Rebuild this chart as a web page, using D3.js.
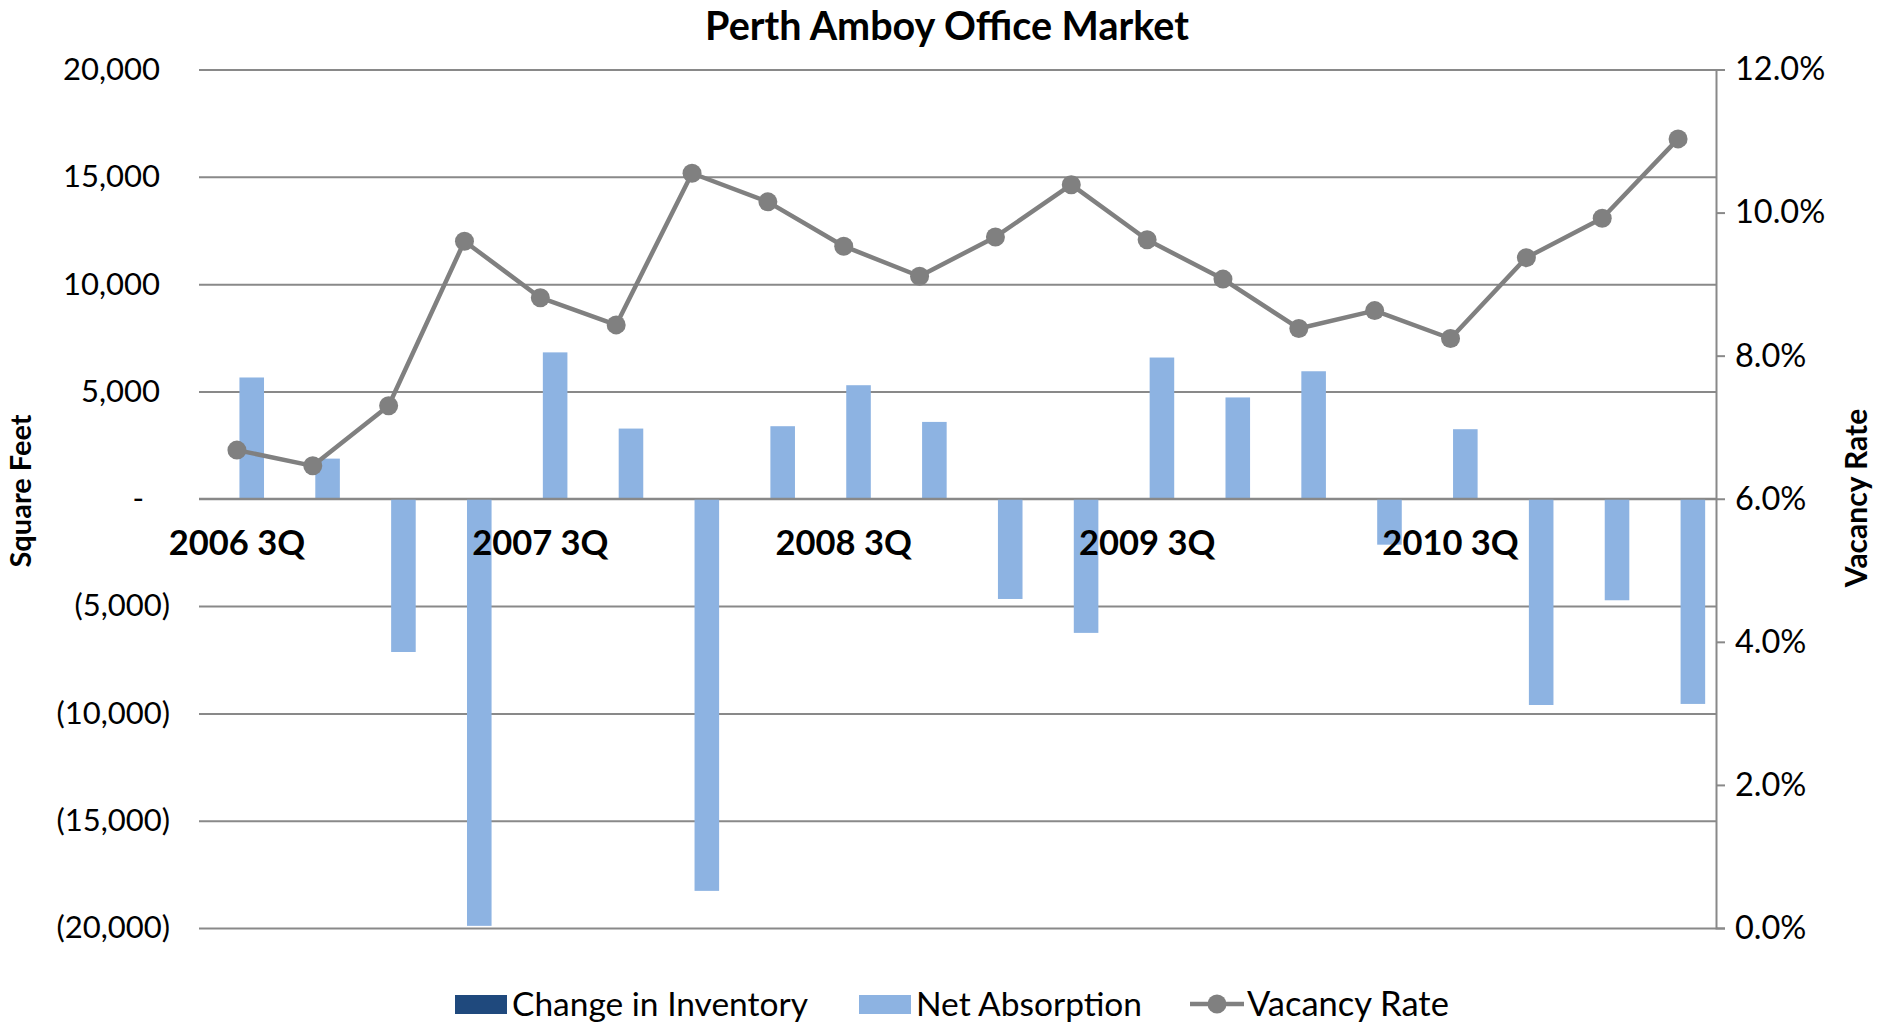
<!DOCTYPE html>
<html>
<head>
<meta charset="utf-8">
<script src="https://cdn.jsdelivr.net/npm/d3@7"></script>
<style>
  html, body { margin: 0; padding: 0; background: #ffffff; }
  svg { display: block; }
  text { font-family: "Lato", "Open Sans", sans-serif; fill: #000; }
</style>
</head>
<body>
<script>
// Quarterly office market figures, Perth Amboy
const quarters = [
  "2006 3Q", "2006 4Q", "2007 1Q", "2007 2Q", "2007 3Q", "2007 4Q", "2008 1Q", "2008 2Q",
  "2008 3Q", "2008 4Q", "2009 1Q", "2009 2Q", "2009 3Q", "2009 4Q", "2010 1Q", "2010 2Q",
  "2010 3Q", "2010 4Q", "2011 1Q", "2011 2Q"
];
// Square feet
const changeInInventory = [0, 0, 0, 0, 0, 0, 0, 0, 0, 0, 0, 0, 0, 0, 0, 0, 0, 0, 0, 0];
const netAbsorption = [
  5650, 1870, -7140, -19900, 6820, 3270, -18270, 3380, 5290, 3580,
  -4670, -6250, 6580, 4720, 5940, -2140, 3240, -9610, -4730, -9560
];
// Vacancy rate (fraction)
const vacancyRate = [
  0.0668, 0.0646, 0.0730, 0.0960, 0.0881, 0.0843, 0.1055, 0.1015, 0.0953, 0.0911,
  0.0966, 0.1039, 0.0962, 0.0907, 0.0838, 0.0863, 0.0824, 0.0937, 0.0992, 0.1103
];
const leftTicks = [-20000, -15000, -10000, -5000, 0, 5000, 10000, 15000, 20000];
const rightTicks = [0, 0.02, 0.04, 0.06, 0.08, 0.10, 0.12];
const seriesNames = ["Change in Inventory", "Net Absorption", "Vacancy Rate"];
const colors = { inventory: "#1F497D", absorption: "#8DB3E2", vacancy: "#808080", grid: "#898989" };

const W = 1889, H = 1023;
const plot = { left: 199, right: 1716, top: 69.5, bottom: 928 };

const svg = d3.select("body").append("svg").attr("width", W).attr("height", H);

const x0 = d3.scaleBand().domain(quarters).range([plot.left, plot.right]).padding(0);
const x1 = d3.scaleBand().domain(["inventory", "absorption"])
  .range([0, x0.bandwidth()]).paddingInner(0.17).paddingOuter(0.366);
const y = d3.scaleLinear().domain([-20000, 20000]).range([plot.bottom, plot.top]);
const y2 = d3.scaleLinear().domain([0, 0.12]).range([plot.bottom, plot.top]);

// Accounting style: negatives in parentheses, zero as a dash
const fmtLeft = v => v === 0 ? "-" : (v < 0 ? "(" + d3.format(",")(-v) + ")" : d3.format(",")(v));

// Left axis with horizontal gridlines
const gLeft = svg.append("g")
  .attr("transform", `translate(${plot.left},0)`)
  .call(d3.axisLeft(y).tickValues(leftTicks).tickSize(-(plot.right - plot.left)).tickPadding(29).tickFormat(fmtLeft));
gLeft.select(".domain").remove();
gLeft.selectAll(".tick line").attr("stroke", colors.grid).attr("stroke-width", 2);
gLeft.selectAll(".tick text")
  .attr("font-size", 31).attr("font-family", "Lato, sans-serif").attr("fill", "#000")
  .attr("dx", d => d < 0 ? 0 : (d === 0 ? -26 : -10));

// Right axis for vacancy rate
const gRight = svg.append("g")
  .attr("transform", `translate(${plot.right},0)`)
  .call(d3.axisRight(y2).tickValues(rightTicks).tickSize(9).tickPadding(10).tickFormat(d3.format(".1%")));
gRight.select(".domain").attr("stroke", colors.grid).attr("stroke-width", 2);
gRight.selectAll(".tick line").attr("stroke", colors.grid).attr("stroke-width", 2);
gRight.selectAll(".tick text").attr("font-size", 32.5).attr("font-family", "Lato, sans-serif").attr("fill", "#000");

// Bars: two series per quarter
const groups = svg.append("g").selectAll("g")
  .data(quarters.map((q, i) => ({ q, inventory: changeInInventory[i], absorption: netAbsorption[i] })))
  .join("g")
  .attr("transform", d => `translate(${x0(d.q)},0)`);

groups.selectAll("rect")
  .data(d => ["inventory", "absorption"].map(k => ({ k, v: d[k] })))
  .join("rect")
  .attr("x", d => x1(d.k))
  .attr("width", x1.bandwidth())
  .attr("y", d => y(Math.max(0, d.v)))
  .attr("height", d => Math.abs(y(d.v) - y(0)))
  .attr("fill", d => colors[d.k]);

// Zero line drawn over the bars
svg.append("line")
  .attr("x1", plot.left).attr("x2", plot.right)
  .attr("y1", y(0)).attr("y2", y(0))
  .attr("stroke", colors.grid).attr("stroke-width", 2);

// Category labels along the zero line, one per year
const gBottom = svg.append("g")
  .attr("transform", `translate(0,${y(0)})`)
  .call(d3.axisBottom(x0).tickValues(quarters.filter((q, i) => i % 4 === 0)).tickSize(0).tickPadding(32));
gBottom.select(".domain").remove();
gBottom.selectAll(".tick text").attr("font-size", 34.5).attr("font-weight", "bold")
  .attr("font-family", "Lato, sans-serif").attr("fill", "#000");

// Vacancy rate line with markers
const cx = q => x0(q) + x0.bandwidth() / 2;
const line = d3.line().x((d, i) => cx(quarters[i])).y(d => y2(d));
svg.append("path")
  .datum(vacancyRate)
  .attr("fill", "none")
  .attr("stroke", colors.vacancy)
  .attr("stroke-width", 4.5)
  .attr("stroke-linejoin", "round")
  .attr("d", line);
svg.append("g").selectAll("circle")
  .data(vacancyRate)
  .join("circle")
  .attr("cx", (d, i) => cx(quarters[i]))
  .attr("cy", d => y2(d))
  .attr("r", 9.5)
  .attr("fill", colors.vacancy);

// Title
svg.append("text")
  .attr("x", 947).attr("y", 40)
  .attr("text-anchor", "middle")
  .attr("font-size", 39.5).attr("font-weight", "bold")
  .text("Perth Amboy Office Market");

// Axis titles
svg.append("text")
  .attr("transform", "translate(31,491) rotate(-90)")
  .attr("text-anchor", "middle")
  .attr("font-size", 29).attr("font-weight", "bold")
  .text("Square Feet");
svg.append("text")
  .attr("transform", "translate(1867,498) rotate(-90)")
  .attr("text-anchor", "middle")
  .attr("font-size", 30).attr("font-weight", "bold")
  .text("Vacancy Rate");

// Legend
const legend = svg.append("g").attr("font-size", 33.5);
const lg = [
  { name: seriesNames[0], type: "rect", color: colors.inventory, x: 455 },
  { name: seriesNames[1], type: "rect", color: colors.absorption, x: 859 },
  { name: seriesNames[2], type: "line", color: colors.vacancy, x: 1190 }
];
const legendY = 1004;
lg.forEach(d => {
  if (d.type === "rect") {
    legend.append("rect").attr("x", d.x).attr("y", legendY - 9).attr("width", 52).attr("height", 19).attr("fill", d.color);
  } else {
    legend.append("line").attr("x1", d.x).attr("x2", d.x + 54).attr("y1", legendY).attr("y2", legendY)
      .attr("stroke", d.color).attr("stroke-width", 4.5);
    legend.append("circle").attr("cx", d.x + 27).attr("cy", legendY).attr("r", 9.5).attr("fill", d.color);
  }
  legend.append("text").attr("x", d.x + 57).attr("y", legendY).attr("dy", "0.35em")
    .attr("font-size", d.type === "line" ? 34.5 : 33.5).text(d.name);
});
</script>
</body>
</html>
